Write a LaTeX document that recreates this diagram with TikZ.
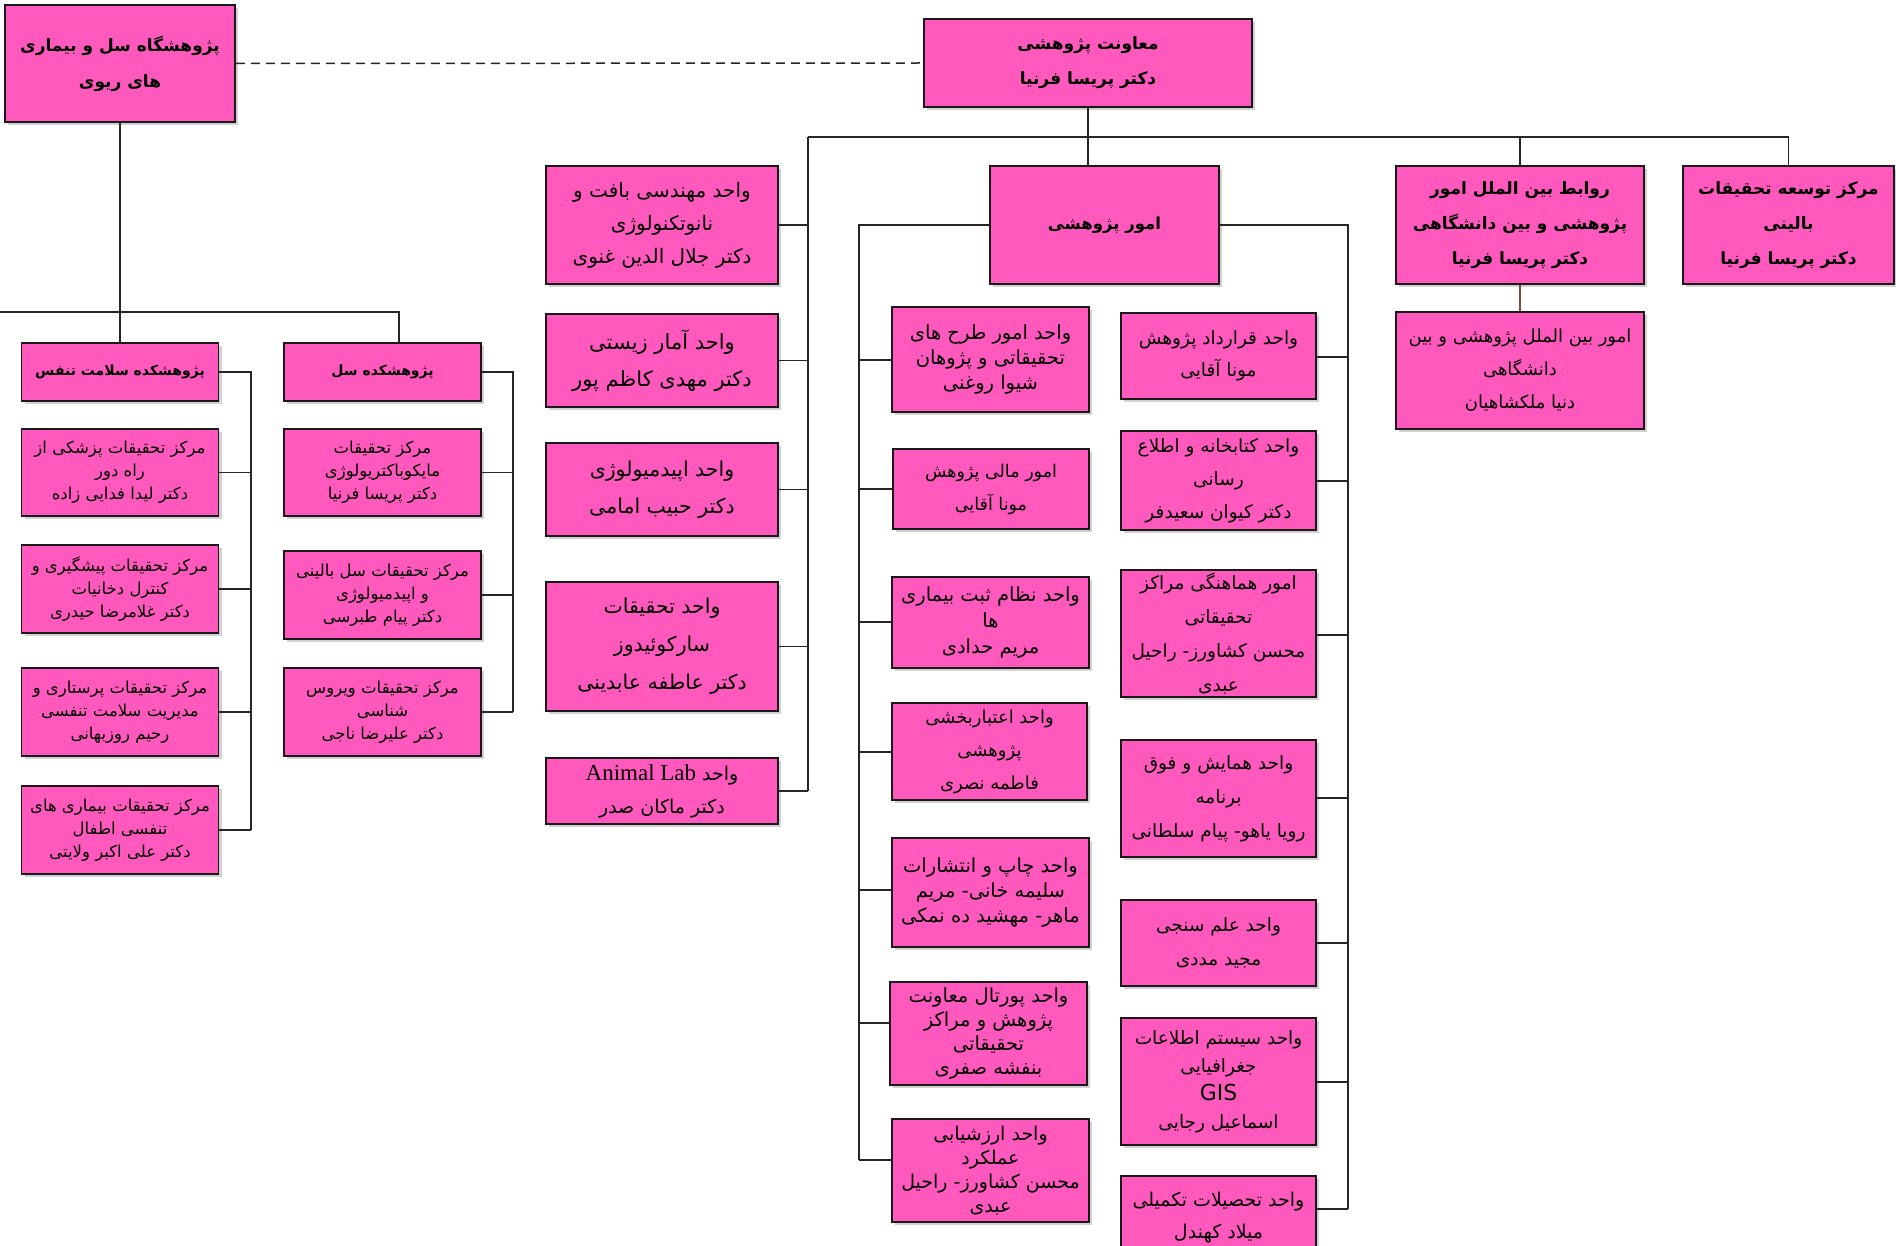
\documentclass[tikz,border=0pt]{standalone}
\usepackage{fontspec}
\usepackage{tikz}
\usetikzlibrary{calc}
\usetikzlibrary{shadows}
\TeXXeTstate=1
\newfontfamily\arabicfont[Script=Arabic]{DejaVu Sans}
\newfontfamily\latinserif{Liberation Serif}
\newcommand{\rl}[1]{\beginR #1\endR}
\definecolor{boxpink}{RGB}{255,89,190}
\definecolor{linkbrown}{RGB}{122,74,62}

\tikzset{
	unitbox/.style 2 args={draw=black!90, line width=1.5pt, fill=boxpink, align=center, inner sep=2pt,
		minimum width=#1pt, minimum height=#2pt,
		drop shadow={shadow xshift=3pt, shadow yshift=-3pt, fill=black!18, opacity=1}},
	txt/.style 2 args={font=\arabicfont\fontsize{#1}{#2}\selectfont},
	btxt/.style 2 args={font=\arabicfont\bfseries\fontsize{#1}{#2}\selectfont},
	link/.style={line width=1.5pt, draw=black!85},
}

\begin{document}
\begin{tikzpicture}[x=1pt, y=-1pt]
	\useasboundingbox[fill=white] (0,0) rectangle (1896,1246);

	% Bus points
	\coordinate (leftBus) at (0,312);
	\coordinate (tbTop) at (399,343);
	\coordinate (bBus) at (251,372);
	\coordinate (tBus) at (513,372);
	\coordinate (midBus) at (808,137);
	\coordinate (lBus) at (859,225);
	\coordinate (rBus) at (1348,225);

	% Top level
	\node[unitbox={230}{117}, btxt={17}{36}] (lungInst) at (120,63.5)
		{\rl{پژوهشگاه سل و بیماری}\\\rl{های ریوی}};
	\node[unitbox={328}{88}, btxt={17}{35}] (vicePres) at (1088,63)
		{\rl{معاونت پژوهشی}\\\rl{دکتر پریسا فرنیا}};

	% Second level
	\node[unitbox={229}{118}, btxt={16.5}{35}] (resAff) at (1104.5,225) {\rl{امور پژوهشی}};
	\node[unitbox={248}{118}, btxt={17}{35}] (intlRel) at (1520,225)
		{\rl{روابط بین الملل امور}\\\rl{پژوهشی و بین دانشگاهی}\\\rl{دکتر پریسا فرنیا}};
	\node[unitbox={211}{118}, btxt={17}{35}] (clinDev) at (1788.5,225)
		{\rl{مرکز توسعه تحقیقات}\\\rl{بالینی}\\\rl{دکتر پریسا فرنیا}};
	\node[unitbox={248}{117}, txt={18}{33}] (intlAff) at (1520,370.5)
		{\rl{امور بین الملل پژوهشی و بین}\\\rl{دانشگاهی}\\\rl{دنیا ملکشاهیان}};

	% Units under the vice president
	\node[unitbox={232}{118}, txt={20}{33}] (tissue) at (662,225)
		{\rl{واحد مهندسی بافت و}\\\rl{نانوتکنولوژی}\\\rl{دکتر جلال الدین غنوی}};
	\node[unitbox={232}{93}, txt={21}{37}] (biostat) at (662,360.5)
		{\rl{واحد آمار زیستی}\\\rl{دکتر مهدی کاظم پور}};
	\node[unitbox={232}{93}, txt={20.5}{37}] (epid) at (662,489.5)
		{\rl{واحد اپیدمیولوژی}\\\rl{دکتر حبیب امامی}};
	\node[unitbox={232}{129}, txt={20.5}{38}] (sarcoid) at (662,646.5)
		{\rl{واحد تحقیقات}\\\rl{سارکوئیدوز}\\\rl{دکتر عاطفه عابدینی}};
	\node[unitbox={232}{66}, txt={19}{33}] (animal) at (662,791)
		{\rl{واحد \beginL{\latinserif\fontsize{23}{33}\selectfont Animal Lab}\endL{}}\\\rl{دکتر ماکان صدر}};

	% Research affairs, left
	\node[unitbox={197}{105}, txt={19.5}{25}] (plans) at (990.5,359.5)
		{\rl{واحد امور طرح های}\\\rl{تحقیقاتی و پژوهان}\\\rl{شیوا روغنی}};
	\node[unitbox={196}{80}, txt={17.5}{33}] (finance) at (991,489)
		{\rl{امور مالی پژوهش}\\\rl{مونا آقایی}};
	\node[unitbox={197}{91}, txt={19.5}{26}] (registry) at (990.5,622.5)
		{\rl{واحد نظام ثبت بیماری}\\\rl{ها}\\\rl{مریم حدادی}};
	\node[unitbox={195}{97}, txt={18}{33}] (accredit) at (989.5,751.5)
		{\rl{واحد اعتباربخشی}\\\rl{پژوهشی}\\\rl{فاطمه نصری}};
	\node[unitbox={197}{109}, txt={19.5}{25}] (publish) at (990.5,892.5)
		{\rl{واحد چاپ و انتشارات}\\\rl{سلیمه خانی- مریم}\\\rl{ماهر- مهشید ده نمکی}};
	\node[unitbox={197}{103}, txt={19.5}{24}] (portal) at (988.5,1033.5)
		{\rl{واحد پورتال معاونت}\\\rl{پژوهش و مراکز}\\\rl{تحقیقاتی}\\\rl{بنفشه صفری}};
	\node[unitbox={197}{103}, txt={19}{24}] (evaluate) at (990.5,1170.5)
		{\rl{واحد ارزشیابی}\\\rl{عملکرد}\\\rl{محسن کشاورز- راحیل}\\\rl{عبدی}};

	% Research affairs, right
	\node[unitbox={195}{86}, txt={18.5}{32}] (contract) at (1218.5,356)
		{\rl{واحد قرارداد پژوهش}\\\rl{مونا آقایی}};
	\node[unitbox={195}{99}, txt={18.5}{33}] (library) at (1218.5,480.5)
		{\rl{واحد کتابخانه و اطلاع}\\\rl{رسانی}\\\rl{دکتر کیوان سعیدفر}};
	\node[unitbox={195}{127}, txt={18.5}{34}] (coord) at (1218.5,633.5)
		{\rl{امور هماهنگی مراکز}\\\rl{تحقیقاتی}\\\rl{محسن کشاورز- راحیل}\\\rl{عبدی}};
	\node[unitbox={195}{117}, txt={18.5}{34}] (congress) at (1218.5,798.5)
		{\rl{واحد همایش و فوق}\\\rl{برنامه}\\\rl{رویا یاهو- پیام سلطانی}};
	\node[unitbox={195}{86}, txt={18.5}{34}] (sciento) at (1218.5,943)
		{\rl{واحد علم سنجی}\\\rl{مجید مددی}};
	\node[unitbox={195}{127}, txt={18.5}{28}] (gis) at (1218.5,1081.5)
		{\rl{واحد سیستم اطلاعات}\\\rl{جغرافیایی}\\{\fontsize{22}{28}\selectfont GIS}\\\rl{اسماعیل رجایی}};
	\node[unitbox={195}{84}, txt={19}{32}] (grad) at (1218.5,1218)
		{\rl{واحد تحصیلات تکمیلی}\\\rl{میلاد کهندل}};

	% Institutes on the left
	\node[unitbox={197}{58}, btxt={14}{30}] (breathInst) at (120,372) {\rl{پژوهشکده سلامت تنفس}};
	\node[unitbox={197}{58}, btxt={14}{30}] (tbInst) at (382.5,372) {\rl{پژوهشکده سل}};

	\node[unitbox={197}{87}, txt={16.5}{23}] (remote) at (120,472.5)
		{\rl{مرکز تحقیقات پزشکی از}\\\rl{راه دور}\\\rl{دکتر لیدا فدایی زاده}};
	\node[unitbox={197}{88}, txt={16.5}{23}] (tobacco) at (120,589)
		{\rl{مرکز تحقیقات پیشگیری و}\\\rl{کنترل دخانیات}\\\rl{دکتر غلامرضا حیدری}};
	\node[unitbox={197}{88}, txt={16.5}{23}] (nursing) at (120,712)
		{\rl{مرکز تحقیقات پرستاری و}\\\rl{مدیریت سلامت تنفسی}\\\rl{رحیم روزبهانی}};
	\node[unitbox={197}{88}, txt={16.5}{23}] (pediatric) at (120,830)
		{\rl{مرکز تحقیقات بیماری های}\\\rl{تنفسی اطفال}\\\rl{دکتر علی اکبر ولایتی}};

	\node[unitbox={197}{87}, txt={16.5}{23}] (myco) at (382.5,472.5)
		{\rl{مرکز تحقیقات}\\\rl{مایکوباکتریولوژی}\\\rl{دکتر پریسا فرنیا}};
	\node[unitbox={197}{88}, txt={16.5}{23}] (clinTb) at (382.5,595)
		{\rl{مرکز تحقیقات سل بالینی}\\\rl{و اپیدمیولوژی}\\\rl{دکتر پیام طبرسی}};
	\node[unitbox={197}{88}, txt={16.5}{23}] (virus) at (382.5,712)
		{\rl{مرکز تحقیقات ویروس}\\\rl{شناسی}\\\rl{دکتر علیرضا ناجی}};

	% Dashed link between the two heads
	\draw[link, dash pattern=on 9pt off 6pt] (lungInst.east) -- (vicePres.west);

	% Main bus
	\draw[link] (vicePres.south) -- (vicePres.south |- resAff.north);
	\draw[link] (midBus) -- (midBus -| clinDev.north) -- (clinDev.north);
	\draw[link] (intlRel.north) -- (intlRel.north |- midBus);
	\draw[link, draw=linkbrown] (intlRel.south) -- (intlAff.north);

	% Middle units
	\draw[link] (midBus) -- (midBus |- animal.east);
	\foreach \n in {tissue, biostat, epid, sarcoid, animal}
		\draw[link] (\n.east) -- (\n.east -| midBus);

	% Research affairs buses
	\draw[link] (resAff.west) -- (lBus) -- (lBus |- 0,1160);
	\draw[link] (resAff.east) -- (rBus) -- (rBus |- 0,1209);
	\foreach \n/\y in {plans/360, finance/489, registry/622, accredit/752, publish/890, portal/1023, evaluate/1160}
		\draw[link] (\n.west |- 0,\y) -- (lBus |- 0,\y);
	\foreach \n/\y in {contract/357, library/481, coord/635, congress/798, sciento/943, gis/1082, grad/1209}
		\draw[link] (\n.east |- 0,\y) -- (rBus |- 0,\y);

	% Left institutes
	\draw[link] (lungInst.south) -- (breathInst.north);
	\draw[link] (leftBus) -- (leftBus -| tbTop) -- (tbTop);
	\draw[link] (breathInst.east) -- (bBus) -- (bBus |- pediatric.east);
	\draw[link] (tbInst.east) -- (tBus) -- (tBus |- virus.east);
	\foreach \n in {remote, tobacco, nursing, pediatric}
		\draw[link] (\n.east) -- (\n.east -| bBus);
	\foreach \n in {myco, clinTb, virus}
		\draw[link] (\n.east) -- (\n.east -| tBus);
\end{tikzpicture}
\end{document}
